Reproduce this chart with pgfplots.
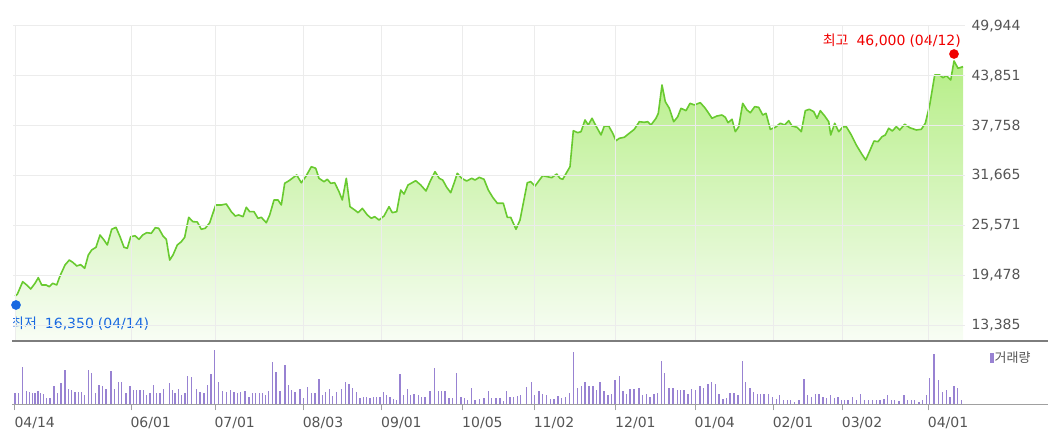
\documentclass[border=0pt]{standalone}
\usepackage{pgfplots}
\pgfplotsset{compat=1.18}
\usepackage{pgfplotstable}
\usepackage{fontspec}
\setmainfont{DejaVu Sans}
\newfontfamily\kr{Noto Sans CJK KR}

\definecolor{linegreen}{RGB}{105,202,48}
\definecolor{filltop}{RGB}{182,238,135}
\definecolor{fillbot}{RGB}{248,253,245}
\definecolor{gridgray}{RGB}{236,236,236}
\definecolor{labgray}{RGB}{85,85,85}
\definecolor{volpurple}{RGB}{152,130,210}
\definecolor{hired}{RGB}{240,0,0}
\definecolor{loblue}{RGB}{25,105,225}
\definecolor{axdark}{RGB}{125,125,125}
\definecolor{axlight}{RGB}{160,160,160}

\pgfplotstableread{
x y
15 16930
17.3 17140
22.7 18680
26.7 18280
30.7 17790
35 18480
38.3 19170
41.7 18280
46 18280
49.3 18070
52.7 18480
56.7 18280
60 19380
65 20720
69.3 21330
73.3 21000
76.7 20600
80.7 20760
84.7 20320
88.3 21940
91.7 22560
96 22890
100 24390
104 23780
107.3 23170
111.7 25090
116 25330
120 24180
124 22890
127.3 22760
130.7 24180
135 24300
139 23860
142.7 24390
146.7 24670
151.3 24600
155.3 25280
158.7 25210
163 24270
166.3 23860
169.7 21330
173 21940
177.3 23170
181.3 23570
184.7 24110
188.7 26550
193 26020
197.3 25980
201.3 25090
205.3 25210
209.7 25890
215.7 28060
221.3 28060
226.3 28180
231.3 27240
235.3 26710
238.7 26840
243 26630
246.3 27780
249.7 27240
254 27240
258 26430
261.3 26550
266.3 25890
269.7 26840
274 28670
278 28670
281.3 28060
284.7 30710
289 31030
296.7 31730
301.3 30780
305.7 31520
311.3 32740
315.7 32550
319 31320
324 30910
327.3 31200
330.7 30710
334.7 30780
339 29680
342.3 28670
346.3 31320
350 27850
355.7 27360
358 27120
362.3 27650
367.3 26840
371.3 26430
374.7 26630
379 26220
384 26710
389 27850
392.3 27120
396.7 27240
400.7 29890
404 29400
408 30500
415.7 31030
420.7 30500
426 29770
430 30910
435 32130
439.3 31320
442.7 31110
446.7 30220
450.7 29560
454 30710
457.3 31930
461.7 31320
466.7 30990
471.7 31320
475 31110
479.3 31440
484 31200
488.3 29890
492.7 29000
497.3 28270
503.3 28270
507.3 26550
510.7 26550
516 25090
520 26220
527.3 30780
530.7 30910
535 30380
542.7 31640
547.3 31520
551.7 31400
556.7 31850
560 31320
562.7 31200
570 32740
573.3 37140
577.7 36900
581 37020
585 38450
588.3 37840
592 38660
596 37720
601 36620
604.3 37720
608.7 37720
612.7 36830
616 35920
619.3 36210
624.3 36340
629.3 36830
634.3 37310
639.3 38240
644.3 38170
647.7 38240
651 37840
656 38660
658.3 39270
662 42730
665.3 40690
669.3 39880
673.7 38240
677.7 38850
681 39880
686 39590
690 40490
694.3 40290
700.3 40570
705.3 39880
712 38660
717 38940
722 39060
725.3 38780
728 38120
732 38540
735.3 37020
738.7 37630
742.7 40490
747 39670
750.3 39340
754.7 40080
758.7 40000
762.7 39060
766 39270
770.3 37310
775.3 37560
780.3 38050
784.7 37840
788.7 38370
792 37720
797 37560
801.3 37020
805.3 39590
809.3 39760
813.7 39470
817 38660
820.3 39590
824.7 38940
828.7 38240
830.7 36620
834.7 38050
838.7 37020
843 37630
846.3 37630
851.3 36620
856.3 35390
861.3 34380
865.7 33560
869.7 34660
874 35880
878 35800
882 36410
885.3 36620
888.7 37440
892.3 37110
896.3 37630
899.7 37230
904.7 37930
909.7 37510
916.3 37230
921.3 37310
925.3 38050
929.7 40290
934.7 43950
939.7 43950
943 43620
946.3 43870
950.7 43340
954 45670
958 44770
963 44970
}\price

\pgfplotstableread{
x v
15 33
18.3 33
22.7 113
26.7 41
29.3 36
32.3 35
35 33
38 41
40.7 33
43.3 31
46.7 18
50 18
54 55
57.3 33
61 63
65 103
68.3 45
71.7 43
75 38
78.3 38
81.7 38
84.3 28
88.3 103
91.7 95
95.7 33
99 58
102.7 55
106 45
111 100
114.3 45
118.3 68
121.7 68
126 33
130 55
133.3 43
136.7 43
140 43
143.3 43
146.7 28
150 33
153.3 58
156.7 33
160 35
163.3 45
169.3 63
172.7 43
175 33
178.3 45
181.7 28
185 33
187.7 86
191.7 81
196.7 45
200 38
204 35
207.3 58
211 90
214.3 163
218.3 68
222.7 41
226.7 38
230.7 43
234 38
237.3 35
240.7 38
245 41
249 23
252.3 33
255.7 33
259.3 33
262.7 33
265.7 28
268.3 41
272.7 126
276 96
280 41
285 118
288.3 58
291.7 43
295 38
300 45
303.3 18
307.3 53
311.7 33
315 33
319 76
322.3 28
325.7 38
329.3 45
332.7 25
336.7 38
341.7 45
345.7 68
349 60
352.7 48
356.7 36
360 18
363.3 21
366.7 21
370 18
373.3 21
376.7 23
380 23
383.3 36
386.7 28
390 23
393.3 16
396.7 13
400 90
403.3 28
407.3 45
410.7 28
414 31
418.3 28
421.7 21
425 23
430 40
434.3 108
438.3 40
441.7 40
445 40
449 18
452.7 18
456.7 95
461 21
464.3 18
467.7 13
471.7 48
475 13
479.3 15
484 18
488.3 40
491.7 18
496 18
500 18
503.3 10
506.7 40
510 21
513.3 23
517.3 25
520.7 28
526.7 52
531.3 68
534.7 27
539 40
542.3 32
546.7 27
550.7 17
554 17
558 24
561.3 20
565.7 22
569.7 35
573.3 157
577.3 49
581.3 54
585 67
589 54
593 54
596.3 44
600 67
604 40
608 27
611.7 32
615 72
619.7 85
623 40
626.7 32
630 47
634 47
639 49
642.3 27
646.3 32
650 22
654 32
657.3 35
661.3 130
664.7 94
669 49
673 49
677.3 44
680.7 44
684 44
688 32
691.7 47
695.7 44
700 54
703.3 49
708 62
711.3 67
715.7 62
719 32
723 17
726.3 20
730 35
734 35
738 27
742.3 130
745.7 67
750 49
753.3 37
757.3 32
760.7 32
764 32
768.3 32
772.3 22
776.3 17
779.7 27
783.3 14
787.3 12
790.7 12
794.7 7
799 12
804 75
807.3 27
811.3 22
815.7 32
819 32
823 22
826.7 20
830.7 27
834.7 20
838 22
841.3 14
844.7 12
848 14
852.3 22
856.3 14
860.7 30
864.7 14
868.3 14
872.3 12
876.3 14
880 12
884 17
887.3 27
891.3 14
894.7 14
899 10
904 27
907.3 14
911.3 12
914.7 12
919 7
922.3 14
926.3 27
929.7 80
934 152
938.3 72
942.3 37
946.3 44
950 22
954 54
957.3 49
961.3 12
}\volume

\begin{document}
\begin{tikzpicture}[x=1pt,y=1pt]
\useasboundingbox (0,0) rectangle (1048,433);
\begin{axis}[name=price, at={(13pt,92pt)}, anchor=south west,
  scale only axis, width=952pt, height=315pt,
  xmin=13, xmax=965, ymin=11429, ymax=49944,
  axis line style={draw=none}, major tick length=0pt,
  xtick={15,131,215,303.3,381.7,462.7,534.3,615.7,695,773.3,842.3,928.3},
  xticklabels={},
  ytick={13385,19478,25571,31665,37758,43851,49944},
  yticklabel pos=right,
  xmajorgrids, ymajorgrids, grid style={gridgray, line width=1pt},
  axis on top,
  yticklabel style={anchor=west, xshift=3pt, text=labgray, font=\fontsize{14}{16}\selectfont},
  scaled y ticks=false,
  /pgf/number format/.cd, fixed, precision=0, 1000 sep={,}, assume math mode=true,
]
\addplot[draw=none, top color=filltop, bottom color=fillbot] table[x=x,y=y]{\price} -- (963,11429) -- (15,11429) -- cycle;
\addplot[linegreen, line width=1.6pt, line join=round] table[x=x,y=y]{\price};
\addplot[only marks, mark=*, mark size=4.6pt, hired, mark options={draw=hired, fill=hired}] coordinates {(954,46520)};
\addplot[only marks, mark=*, mark size=4.6pt, loblue, mark options={draw=loblue, fill=loblue}] coordinates {(16,15830)};
\node[anchor=base east, text=hired, font=\fontsize{14}{16}\selectfont, inner sep=0pt] at (961,47600) {{\kr 최고}\hspace{8pt}46,000\hspace{4pt}(04/12)};
\node[anchor=base west, text=loblue, font=\fontsize{14}{16}\selectfont, inner sep=0pt] at (11,12950) {{\kr 최저}\hspace{8pt}16,350\hspace{4pt}(04/14)};
\end{axis}

\begin{axis}[name=vol, at={(13pt,28.7pt)}, anchor=south west,
  scale only axis, width=952pt, height=63.3pt,
  xmin=13, xmax=965, ymin=0, ymax=190,
  axis line style={draw=none}, ytick=\empty,
  xtick={15,131,215,303.3,381.7,462.7,534.3,615.7,695,773.3,842.3,928.3},
  xticklabels={04/14,06/01,07/01,08/03,09/01,10/05,11/02,12/01,01/04,02/01,03/02,04/01},
  xtick pos=bottom, xtick align=outside, major tick length=6pt,
  tick style={axlight, line width=1pt},
  xticklabel style={anchor=north west, xshift=-4pt, yshift=-3pt, text=labgray, font=\fontsize{14}{16}\selectfont},
]
\addplot[ycomb, volpurple, line width=1.4pt] table[x=x,y=v]{\volume};
\end{axis}

\draw[axdark, line width=1.5pt] (12,92) -- (1048,92);
\draw[axlight, line width=1.2pt] (12,28.7) -- (1048,28.7);
\fill[volpurple] (990,70) rectangle (993.5,80);
\node[anchor=west, text=labgray, inner sep=0pt, font=\kr\fontsize{13}{15}\selectfont] at (994.5,75) {거래량};
\end{tikzpicture}
\end{document}
